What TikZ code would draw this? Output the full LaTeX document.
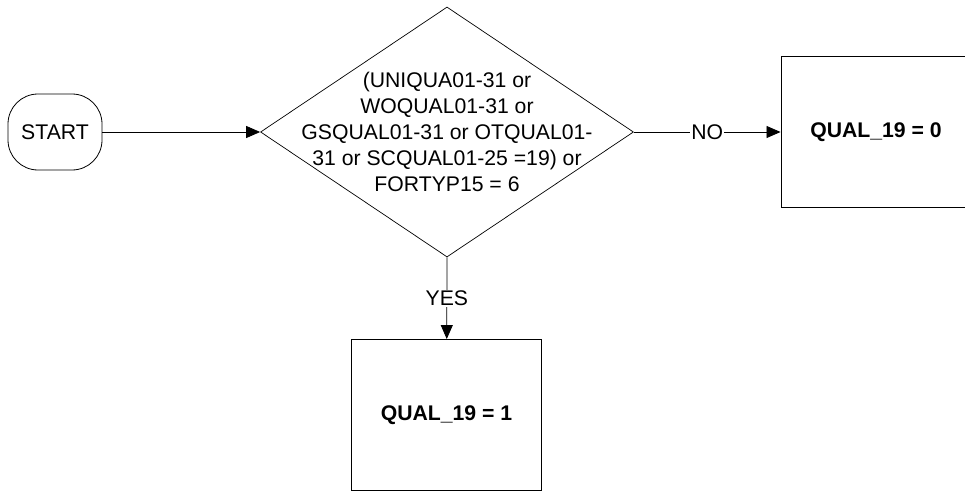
\documentclass[tikz,border=0pt]{standalone}
\usepackage{fontspec}
\setmainfont{Liberation Sans}
\usetikzlibrary{arrows.meta,positioning,shapes.geometric}

\begin{document}
\begin{tikzpicture}[
  x=1pt, y=-1pt,
  every node/.style={font=\fontsize{21.2}{26}\selectfont},
  term/.style={draw, rounded corners=30pt, minimum width=94pt, minimum height=76pt, line width=0.8pt},
  decide/.style={draw, diamond, inner sep=0pt, minimum width=373pt, minimum height=250pt, line width=0.7pt},
  proc/.style={draw, rectangle, minimum width=190pt, minimum height=151pt, line width=0.9pt, font=\fontsize{21.2}{26}\selectfont\bfseries},
  edge/.style={-{Triangle[length=14pt,width=12pt]}, line width=0.8pt},
  lbl/.style={fill=white, inner sep=1pt}
]
\clip (0,0) rectangle (965,492);

% --- Nodos ---
\node[term] (start) at (55,132) {START};
\node[decide] (cond) at (447,132) {};
\node[align=center] (condtxt) at (cond.center) {(UNIQUA01-31 or\\WOQUAL01-31 or\\GSQUAL01-31 or OTQUAL01-\\31 or SCQUAL01-25 =19) or\\FORTYP15 = 6};
\node[proc] (qno)  at (876,132) {QUAL\_19 = 0};
\node[proc] (qyes) at (446.5,415) {QUAL\_19 = 1};

% --- Conectores ---
\draw[edge] (start) -- (cond.west);
\draw[edge] (cond.east) -- node[lbl] (nolbl) {NO} (qno);
\draw[edge] (cond.south) -- node[lbl, pos=0.5] (yeslbl) {YES} (qyes);
\end{tikzpicture}
\end{document}
